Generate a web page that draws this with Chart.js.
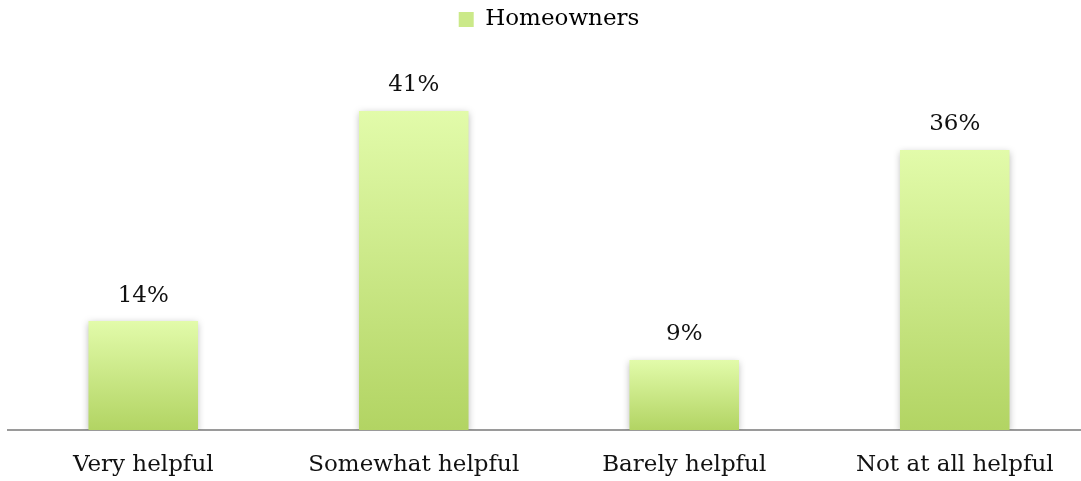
<!DOCTYPE html>
<html>
<head>
<meta charset="utf-8">
<script src="https://cdn.jsdelivr.net/npm/chart.js@4/dist/chart.umd.min.js"></script>
<style>
  html, body { margin: 0; padding: 0; background: #ffffff; overflow: hidden; }
  #wrap { width: 1081px; height: 481px; overflow: hidden; position: relative; }
  #box { width: 1090px; height: 481px; position: absolute; left: 0; top: 0; }
</style>
</head>
<body>
<div id="wrap"><div id="box"><canvas id="chart"></canvas></div></div>
<script>
// Survey answers and shares (percent)
const categories = ['Very helpful', 'Somewhat helpful', 'Barely helpful', 'Not at all helpful'];
const seriesName = 'Homeowners';
const homeowners = [14, 41, 9, 36];

const FONT = "'DejaVu Serif', serif";
const TOP_GREEN = '#e2fbaa';
const BOTTOM_GREEN = '#b2d463';

// Vertical gradient per bar, from its top edge down to the baseline
function barFill(ctx) {
  const chart = ctx.chart;
  const area = chart.chartArea;
  if (!area || ctx.dataIndex === undefined) return '#c9e785';
  const y = chart.scales.y;
  const top = y.getPixelForValue(ctx.raw);
  const bottom = y.getPixelForValue(0);
  const g = chart.ctx.createLinearGradient(0, top, 0, bottom);
  g.addColorStop(0, TOP_GREEN);
  g.addColorStop(1, BOTTOM_GREEN);
  return g;
}

// Soft shadow behind the bars
const barShadow = {
  id: 'barShadow',
  beforeDatasetsDraw(chart) {
    const c = chart.ctx;
    c.save();
    c.shadowColor = 'rgba(0,0,0,0.28)';
    c.shadowBlur = 7;
    c.shadowOffsetX = 0;
    c.shadowOffsetY = 2;
  },
  afterDatasetsDraw(chart) {
    chart.ctx.restore();
  }
};

// Percentage labels above each bar
const valueLabels = {
  id: 'valueLabels',
  afterDatasetsDraw(chart) {
    const c = chart.ctx;
    const meta = chart.getDatasetMeta(0);
    c.save();
    c.font = '23px ' + FONT;
    c.fillStyle = '#111111';
    c.textAlign = 'center';
    c.textBaseline = 'bottom';
    meta.data.forEach((bar, i) => {
      c.fillText(homeowners[i] + '%', bar.x, bar.y - 14);
    });
    c.restore();
  }
};

new Chart(document.getElementById('chart'), {
  type: 'bar',
  data: {
    labels: categories,
    datasets: [{
      label: seriesName,
      data: homeowners,
      backgroundColor: barFill,
      borderWidth: 0,
      categoryPercentage: 1.0,
      barPercentage: 0.405
    }]
  },
  options: {
    responsive: true,
    maintainAspectRatio: false,
    animation: false,
    layout: { padding: { left: 8, right: 0, top: 0, bottom: 0 } },
    plugins: {
      tooltip: { enabled: false },
      legend: {
        display: true,
        position: 'top',
        labels: {
          font: { family: FONT, size: 23 },
          color: '#111111',
          boxWidth: 15,
          boxHeight: 15,
          padding: 8,
          generateLabels(chart) {
            return [{
              text: seriesName,
              fillStyle: '#cbe989',
              strokeStyle: '#cbe989',
              lineWidth: 0,
              datasetIndex: 0
            }];
          }
        }
      }
    },
    scales: {
      x: {
        grid: { display: false, drawTicks: false },
        border: { display: true, color: '#9a9a9a', width: 2 },
        ticks: {
          font: { family: FONT, size: 23 },
          color: '#111111',
          padding: 21,
          maxRotation: 0
        },
        afterFit(scale) { scale.height = 51; }
      },
      y: {
        display: false,
        min: 0,
        max: 50
      }
    }
  },
  plugins: [barShadow, valueLabels]
});
</script>
</body>
</html>
